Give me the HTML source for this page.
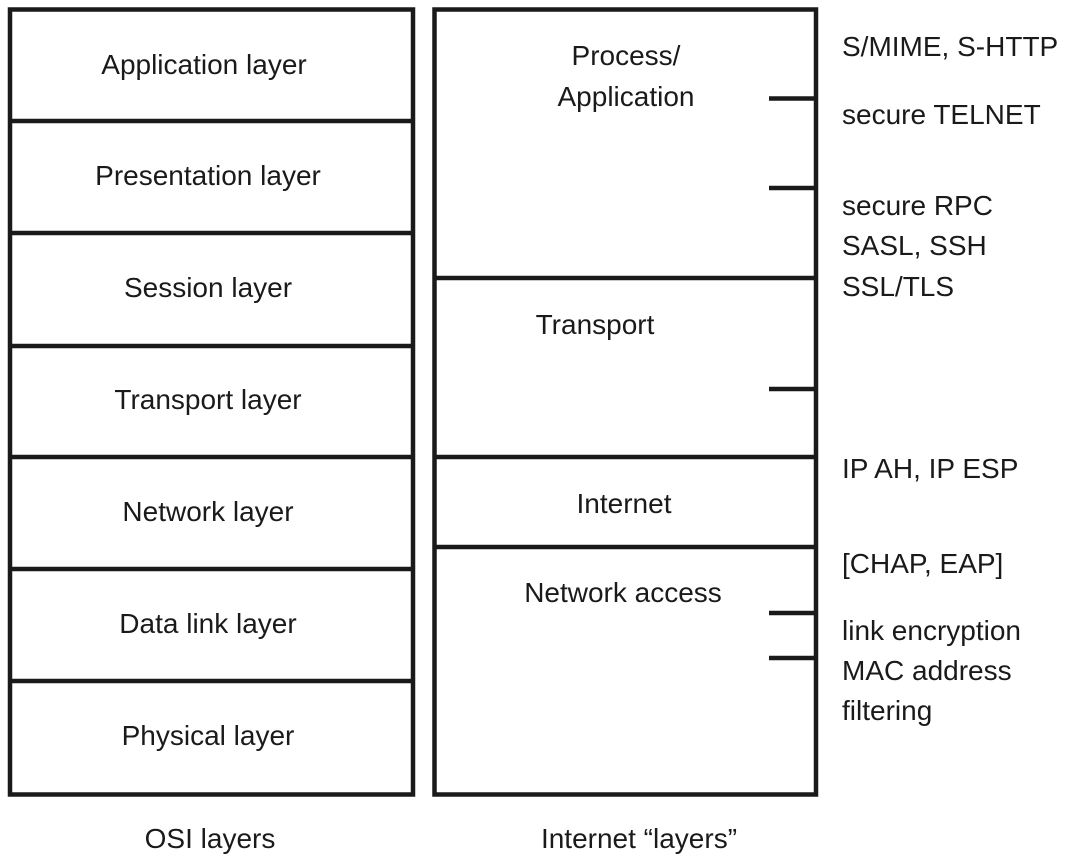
<!DOCTYPE html>
<html><head><meta charset="utf-8"><style>
html,body{margin:0;padding:0;background:#fff;}
svg text{font-family:"Liberation Sans Narrow","Liberation Sans",sans-serif;font-size:28px;fill:#1a1a1a;}
</style></head><body>
<svg width="1066" height="862" viewBox="0 0 1066 862" xmlns="http://www.w3.org/2000/svg">
<g stroke="#1a1a1a" stroke-width="4.5" fill="none">
<rect x="10" y="9.5" width="403" height="785"/>
<line x1="10" y1="121" x2="413" y2="121"/>
<line x1="10" y1="233" x2="413" y2="233"/>
<line x1="10" y1="346" x2="413" y2="346"/>
<line x1="10" y1="457" x2="413" y2="457"/>
<line x1="10" y1="569" x2="413" y2="569"/>
<line x1="10" y1="681" x2="413" y2="681"/>
<rect x="434.5" y="9.5" width="381.5" height="785"/>
<line x1="434" y1="278" x2="816" y2="278"/>
<line x1="434" y1="457" x2="816" y2="457"/>
<line x1="434" y1="547" x2="816" y2="547"/>
<line x1="769" y1="98.5" x2="816" y2="98.5"/>
<line x1="769" y1="188" x2="816" y2="188"/>
<line x1="769" y1="389" x2="816" y2="389"/>
<line x1="769" y1="613" x2="816" y2="613"/>
<line x1="769" y1="658" x2="816" y2="658"/>
</g>
<g text-anchor="middle">
<text x="204" y="74">Application layer</text>
<text x="208" y="185">Presentation layer</text>
<text x="208" y="297">Session layer</text>
<text x="208" y="409">Transport layer</text>
<text x="208" y="521">Network layer</text>
<text x="208" y="633">Data link layer</text>
<text x="208" y="745">Physical layer</text>
<text x="626" y="65">Process/</text>
<text x="626" y="106">Application</text>
<text x="595" y="334">Transport</text>
<text x="624" y="513">Internet</text>
<text x="623" y="602">Network access</text>
<text x="210" y="848">OSI layers</text>
<text x="639" y="848">Internet “layers”</text>
</g>
<g>
<text x="842" y="56">S/MIME, S-HTTP</text>
<text x="842" y="124">secure TELNET</text>
<text x="842" y="215">secure RPC</text>
<text x="842" y="255">SASL, SSH</text>
<text x="842" y="296">SSL/TLS</text>
<text x="842" y="478">IP AH, IP ESP</text>
<text x="842" y="573">[CHAP, EAP]</text>
<text x="842" y="640">link encryption</text>
<text x="842" y="680">MAC address</text>
<text x="842" y="720">filtering</text>
</g>
</svg>
</body></html>
